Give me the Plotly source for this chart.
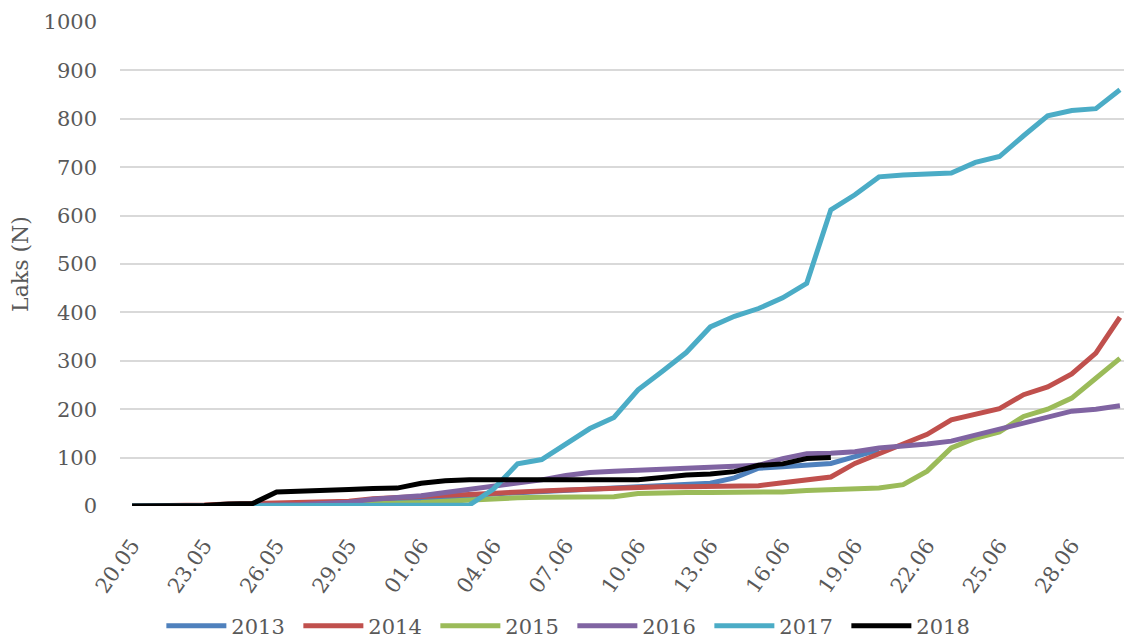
import plotly.graph_objects as go

dates = ["20.05","21.05","22.05","23.05","24.05","25.05","26.05","27.05","28.05","29.05",
         "30.05","31.05","01.06","02.06","03.06","04.06","05.06","06.06","07.06","08.06",
         "09.06","10.06","11.06","12.06","13.06","14.06","15.06","16.06","17.06","18.06",
         "19.06","20.06","21.06","22.06","23.06","24.06","25.06","26.06","27.06","28.06",
         "29.06","30.06"]

y2013 = [0,0,0,0,1,1,2,3,4,5,8,10,13,17,21,25,27,30,32,35,37,40,42,44,47,58,78,81,85,88,102,116]
y2014 = [0,0,1,2,4,5,7,8,9,10,15,18,20,22,24,27,29,31,33,35,37,39,40,40,40,41,42,48,54,60,88,108,
         128,148,178,190,201,230,246,273,316,390]
y2015 = [0,0,0,0,0,1,1,2,2,3,4,5,7,10,13,15,17,18,18,19,19,26,28,28,28,28,29,29,32,34,35,37,
         44,72,120,140,153,185,200,223,264,305]
y2016 = [0,0,0,0,0,1,2,3,5,8,14,18,21,28,34,40,46,54,63,69,72,74,76,77,79,80,84,98,108,109,112,120,
         123,128,134,146,158,171,182,196,200,207]
y2017 = [0,0,0,0,0,0,0,0,0,0,0,0,0,1,2,35,87,96,128,160,183,240,278,317,370,392,408,430,460,612,643,680,
         684,686,688,710,722,765,806,817,821,860]
y2018 = [0,0,0,1,4,5,29,30,32,34,36,37,47,52,54,54,54,54,54,54,54,54,59,64,66,71,84,87,98,100]

series = [("2013", y2013, "#4F81BD"), ("2014", y2014, "#C0504D"), ("2015", y2015, "#9BBB59"),
          ("2016", y2016, "#8064A2"), ("2017", y2017, "#4BACC6"), ("2018", y2018, "#000000")]

tick_idx = list(range(0, len(dates), 3))
tick_text = [dates[i] for i in tick_idx]

FONT = "DejaVu Serif"
GREY = "#595959"

fig = go.Figure()
for name, vals, col in series:
    fig.add_trace(go.Scatter(x=list(range(len(vals))), y=vals, name=name, mode="lines",
                             line=dict(color=col, width=5)))

fig.update_layout(
    width=1124, height=633,
    margin=dict(l=112, r=0, t=14, b=135, autoexpand=False),
    plot_bgcolor="white", paper_bgcolor="white",
    font=dict(family=FONT, size=20, color=GREY),
    showlegend=True,
    legend=dict(orientation="h", x=0.447, xanchor="center", y=-0.248, yanchor="middle",
                font=dict(family=FONT, size=21, color=GREY), itemwidth=60,
                entrywidth=62, entrywidthmode="pixels"),
    xaxis=dict(range=[-0.5, len(dates) - 0.5], tickmode="array", tickvals=tick_idx, ticktext=tick_text,
               tickangle=-55, showgrid=False, zeroline=False, showline=False, ticks="",
               ticklabelstandoff=22, automargin=False,
               tickfont=dict(family=FONT, size=21, color=GREY)),
    yaxis=dict(range=[0, 1000], dtick=100, showgrid=True, gridcolor="#D9D9D9", gridwidth=1.5,
               zeroline=False, showline=False, ticks="", ticklabelstandoff=22, automargin=False,
               title=dict(text="Laks (N)", font=dict(family=FONT, size=22, color=GREY), standoff=10),
               tickfont=dict(family=FONT, size=21, color=GREY)),
)

fig.write_html("out.html")
